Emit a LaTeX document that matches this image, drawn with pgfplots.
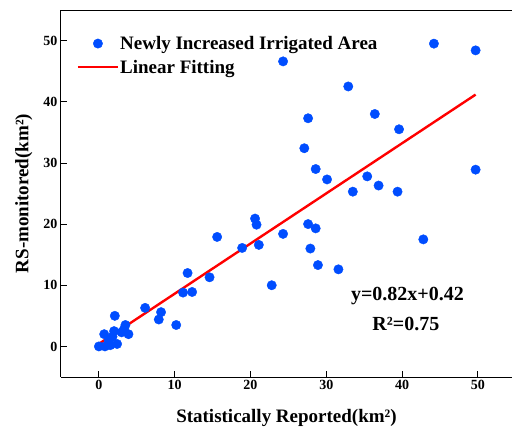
\documentclass[border=0pt]{standalone}
\usepackage{fontspec}
\setmainfont{Liberation Serif}
\usepackage{pgfplots}
\pgfplotsset{compat=1.18}
\definecolor{ptblue}{RGB}{0,77,255}
\begin{document}
\begin{tikzpicture}
\begin{axis}[
  at={(0,0)}, anchor=south west,
  scale only axis, width=451pt, height=367pt,
  xmin=-5, xmax=54.5, ymin=-5, ymax=55,
  axis x line=box, axis y line=left,
  axis line style={line width=1pt, -},
  xtick={0,10,...,50}, ytick={0,10,...,50},
  tick align=inside, xtick pos=bottom, ytick pos=left,
  major tick length=6pt, tick style={line width=0.8pt, black},
  /pgf/number format/assume math mode=true,
  ticklabel style={font=\bfseries\fontsize{14}{16}\selectfont},
  xlabel={\bfseries Statistically Reported(km²)},
  ylabel={\bfseries RS-monitored(km²)},
  label style={font=\bfseries\fontsize{19}{21}\selectfont},
  xlabel style={at={(axis description cs:0.5,0)}, anchor=north, yshift=-29pt},
  ylabel style={at={(axis description cs:0,0.5)}, anchor=south, yshift=25pt},
  legend style={at={(axis description cs:0.03,0.94)}, anchor=north west, draw=none, fill=none,
    font=\bfseries\fontsize{19}{21}\selectfont, row sep=5pt, inner sep=2pt,
    nodes={inner xsep=1pt}},
  legend cell align=left,
  clip=false,
]
\addplot[only marks, mark=*, mark size=4.7pt, draw=ptblue, fill=ptblue,
  legend image code/.code={\fill[ptblue] (20pt,0pt) circle (4.7pt); \path (0pt,0pt) (40pt,0pt);}]
coordinates {
(0,0) (0.8,0) (1.5,0.2) (0.7,2.0) (1.3,1.0) (2.0,2.5) (2.1,5.0) (2.4,0.4)
(3.0,2.3) (3.5,3.5) (3.9,2.0) (3.3,2.8) (1.8,1.6) (6.1,6.3) (8.2,5.6) (7.9,4.4)
(10.2,3.5) (11.1,8.8) (12.3,8.9) (11.7,12.0) (14.6,11.3) (15.6,17.9) (18.9,16.1)
(20.6,20.9) (20.8,19.9) (21.1,16.6) (22.8,10.0) (24.3,18.4) (24.3,46.6)
(27.1,32.4) (27.6,37.3) (27.6,20.0) (27.9,16.0) (28.6,19.3) (28.6,29.0)
(28.9,13.3) (30.1,27.3) (31.6,12.6) (32.9,42.5) (33.5,25.3) (35.4,27.8)
(36.4,38.0) (36.9,26.3) (39.4,25.3) (39.6,35.5) (42.8,17.5) (44.2,49.5)
(49.7,48.4) (49.7,28.9)
};
\addlegendentry{Newly Increased Irrigated Area}
\addplot[red, line width=2.4pt, no marks,
  legend image code/.code={\draw[red, line width=2.4pt] (0pt,0pt) -- (40pt,0pt);}]
coordinates {(0,0.42) (49.7,41.17)};
\addlegendentry{Linear Fitting}
\node[font=\bfseries\fontsize{20}{22}\selectfont] at (axis cs:40.7,8.2) {y=0.82x+0.42};
\node[font=\bfseries\fontsize{20}{22}\selectfont] at (axis cs:40.5,3.7) {R²=0.75};
\end{axis}
\pgfresetboundingbox
\path[use as bounding box] (-61pt,-52pt) rectangle (451pt,377pt);
\end{tikzpicture}
\end{document}
